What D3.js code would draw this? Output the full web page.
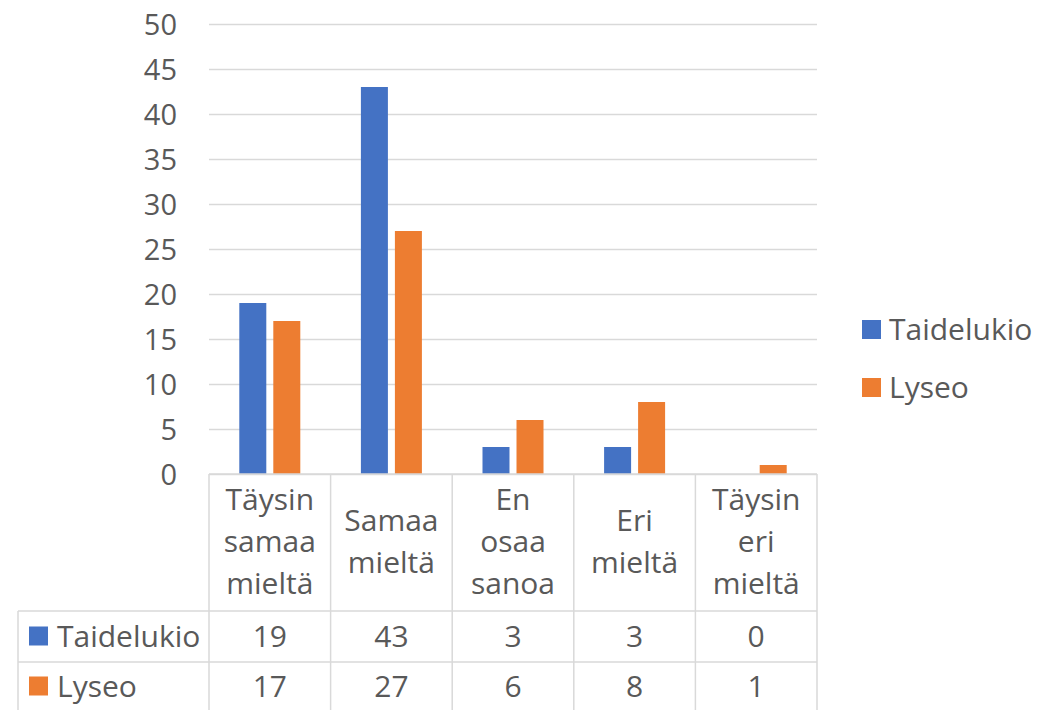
<!DOCTYPE html>
<html>
<head>
<meta charset="utf-8">
<script src="https://cdn.jsdelivr.net/npm/d3@7"></script>
<style>
  body { margin: 0; background: #fff; }
  text { font-family: "Open Sans", sans-serif; fill: #595959; }
</style>
</head>
<body>
<div id="chart"></div>
<script>
// data
const categories = ["Täysin samaa mieltä", "Samaa mieltä", "En osaa sanoa", "Eri mieltä", "Täysin eri mieltä"];
const seriesNames = ["Taidelukio", "Lyseo"];
const taidelukio = [19, 43, 3, 3, 0];
const lyseo = [17, 27, 6, 8, 1];
const yTicks = [0, 5, 10, 15, 20, 25, 30, 35, 40, 45, 50];

const colors = ["#4472C4", "#ED7D31"];
const values = [taidelukio, lyseo];

const width = 1058, height = 710;
const plot = { left: 209, right: 817, top: 24, bottom: 474 };
const tableLeft = 18;
const headerBottom = 611, row1Bottom = 662, row2Bottom = 711;
const fontSize = 30;
const tickFontSize = 29;
const gridColor = "#D9D9D9";

const svg = d3.select("#chart").append("svg")
  .attr("width", width)
  .attr("height", height);

const x = d3.scaleBand()
  .domain(categories)
  .range([plot.left, plot.right])
  .padding(0);

const xInner = d3.scaleBand()
  .domain(seriesNames)
  .range([0, x.bandwidth()])
  .paddingInner(0.206)
  .paddingOuter(0.891);

const y = d3.scaleLinear()
  .domain([0, 50])
  .range([plot.bottom, plot.top]);

// gridlines + tick labels
const yAxis = svg.append("g")
  .attr("transform", `translate(${plot.left},0)`)
  .call(d3.axisLeft(y).tickValues(yTicks).tickSize(-(plot.right - plot.left)).tickPadding(32).tickFormat(d3.format("d")));
yAxis.select(".domain").remove();
yAxis.selectAll(".tick line").attr("stroke", gridColor).attr("stroke-width", 1.5);
yAxis.selectAll(".tick text")
  .style("font-size", tickFontSize + "px")
  .style("font-family", "'Open Sans', sans-serif")
  .attr("fill", "#595959")
  .attr("dy", "0.36em");

// bars
categories.forEach((c, i) => {
  seriesNames.forEach((s, j) => {
    const v = values[j][i];
    if (v <= 0) return;
    svg.append("rect")
      .attr("x", x(c) + xInner(s))
      .attr("y", y(v))
      .attr("width", xInner.bandwidth())
      .attr("height", y(0) - y(v))
      .attr("fill", colors[j]);
  });
});

// data table lines
const lines = svg.append("g").attr("stroke", gridColor).attr("stroke-width", 1.5);
lines.append("line").attr("x1", plot.left).attr("x2", plot.right).attr("y1", plot.bottom).attr("y2", plot.bottom);
[headerBottom, row1Bottom].forEach(yy => {
  lines.append("line").attr("x1", tableLeft).attr("x2", plot.right).attr("y1", yy).attr("y2", yy);
});
categories.forEach(c => {
  lines.append("line").attr("x1", x(c)).attr("x2", x(c)).attr("y1", plot.bottom).attr("y2", row2Bottom);
});
lines.append("line").attr("x1", plot.right).attr("x2", plot.right).attr("y1", plot.bottom).attr("y2", row2Bottom);
lines.append("line").attr("x1", tableLeft).attr("x2", tableLeft).attr("y1", headerBottom).attr("y2", row2Bottom);

// category labels (one word per line)
const lineGap = 42;
const headerMid = 552;
categories.forEach(c => {
  const words = c.split(" ");
  const t = svg.append("text")
    .attr("text-anchor", "middle")
    .style("font-size", fontSize + "px");
  words.forEach((w, k) => {
    t.append("tspan")
      .attr("x", x(c) + x.bandwidth() / 2)
      .attr("y", headerMid + (k - (words.length - 1) / 2) * lineGap)
      .text(w);
  });
});

// table rows
const rowMids = [(headerBottom + row1Bottom) / 2, (row1Bottom + row2Bottom) / 2];
seriesNames.forEach((s, j) => {
  const ym = rowMids[j];
  svg.append("rect")
    .attr("x", 29).attr("y", ym - 10).attr("width", 19).attr("height", 19)
    .attr("fill", colors[j]);
  svg.append("text")
    .attr("x", 57).attr("y", ym + 10.5)
    .style("font-size", fontSize + "px")
    .text(s);
  categories.forEach((c, i) => {
    svg.append("text")
      .attr("x", x(c) + x.bandwidth() / 2)
      .attr("y", ym + 10.5)
      .attr("text-anchor", "middle")
      .style("font-size", fontSize + "px")
      .text(values[j][i]);
  });
});

// legend
const legendY = [329, 387];
seriesNames.forEach((s, j) => {
  svg.append("rect")
    .attr("x", 862).attr("y", legendY[j] - 9).attr("width", 19).attr("height", 19)
    .attr("fill", colors[j]);
  svg.append("text")
    .attr("x", 889).attr("y", legendY[j] + 10.5)
    .style("font-size", fontSize + "px")
    .text(s);
});
</script>
</body>
</html>
